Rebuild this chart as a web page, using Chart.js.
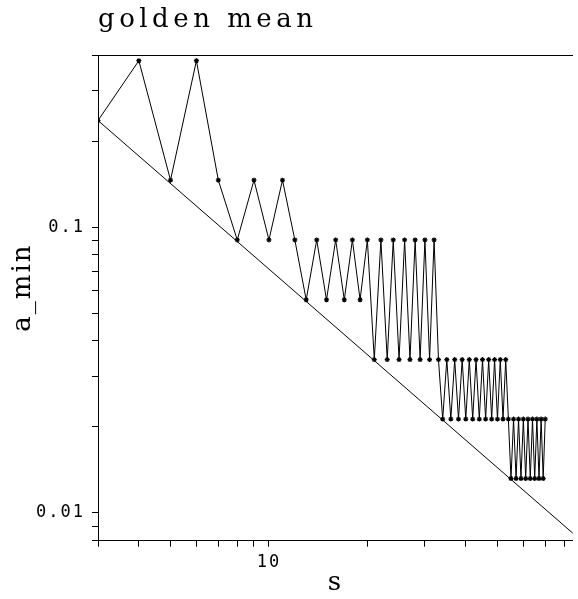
<!DOCTYPE html>
<html>
<head>
<meta charset="utf-8">
<title>golden mean</title>
<script src="https://cdn.jsdelivr.net/npm/chart.js@4/dist/chart.umd.min.js"></script>
<style>
	body { margin: 0; background: #fff; }
	#wrap { width: 578px; height: 599px; }
</style>
</head>
<body>
<div id="wrap"><canvas id="chart"></canvas></div>
<script>
const CHART = document.getElementById("chart");

// s values and the a_min read for each of them
const S_VALUES = [
	3, 4, 5, 6, 7, 8, 9, 10, 11, 12, 13, 14, 15, 16, 17, 18, 19, 20,
	21, 22, 23, 24, 25, 26, 27, 28, 29, 30, 31, 32, 33, 34, 35, 36, 37, 38,
	39, 40, 41, 42, 43, 44, 45, 46, 47, 48, 49, 50, 51, 52, 53, 54, 55, 56,
	57, 58, 59, 60, 61, 62, 63, 64, 65, 66, 67, 68, 69, 70,
];
const A_MIN = [
	0.236, 0.382, 0.146, 0.382, 0.146, 0.0902, 0.146, 0.0902, 0.146, 0.0902,
	0.0557, 0.0902, 0.0557, 0.0902, 0.0557, 0.0902, 0.0557, 0.0902,
	0.0344, 0.0902, 0.0344, 0.0902, 0.0344, 0.0902, 0.0344, 0.0902, 0.0344,
	0.0902, 0.0344, 0.0902, 0.0344, 0.0213, 0.0344, 0.0213, 0.0344, 0.0213,
	0.0344, 0.0213, 0.0344, 0.0213, 0.0344, 0.0213, 0.0344, 0.0213, 0.0344,
	0.0213, 0.0344, 0.0213, 0.0344, 0.0213, 0.0344, 0.0213, 0.0132, 0.0213,
	0.0132, 0.0213, 0.0132, 0.0213, 0.0132, 0.0213, 0.0132, 0.0213, 0.0132,
	0.0213, 0.0132, 0.0213, 0.0132, 0.0213,
];

// the straight lower bound
const BOUND_S = [3, 85];
const BOUND_A = [0.236, 0.0085];

const X_TICKS = [3, 4, 5, 6, 7, 8, 9, 10, 20, 30, 40, 50, 60, 70, 80];
const X_LABELS = { 10: "10" };
const Y_TICKS = [
	0.008, 0.009, 0.01, 0.02, 0.03, 0.04, 0.05, 0.06, 0.07, 0.08, 0.09,
	0.1, 0.2, 0.3, 0.4,
];
const Y_LABELS = { 0.01: "0.01", 0.1: "0.1" };

const X_MIN = 3;
const X_MAX = 85;
const Y_MIN = 0.008;
const Y_MAX = 0.4;

const labelFor = (table, value) => {
	for (const key of Object.keys(table)) {
		if (Math.abs(parseFloat(key) - value) < value * 1e-6) return table[key];
	}
	return "";
};

// canvas letter spacing: title first, then axis texts drawn after the datasets
const letterSpacing = {
	id: "letterSpacing",
	beforeDraw: (chart) => {
		chart.ctx.letterSpacing = "4.5px";
	},
	afterDatasetsDraw: (chart) => {
		chart.ctx.letterSpacing = "2px";
	},
	afterDraw: (chart) => {
		chart.ctx.letterSpacing = "0px";
	},
};

const tickFont = { family: "DejaVu Sans Mono", size: 17 };
const titleFont = { family: "DejaVu Serif", size: 26 };

const axisGrid = {
	display: true,
	drawOnChartArea: false,
	drawTicks: true,
	tickLength: 6,
	tickColor: "#000",
	z: 1,
};

new Chart(CHART.getContext("2d"), {
	type: "line",
	data: {
		datasets: [
			{
				label: "a_min",
				data: S_VALUES.map((s, i) => ({ x: s, y: A_MIN[i] })),
				borderColor: "#000",
				borderWidth: 1,
				pointStyle: "star",
				pointRadius: 2.5,
				pointBorderWidth: 1.2,
				pointBorderColor: "#000",
				pointBackgroundColor: "#000",
				tension: 0,
			},
			{
				label: "bound",
				data: BOUND_S.map((s, i) => ({ x: s, y: BOUND_A[i] })),
				borderColor: "#000",
				borderWidth: 1,
				pointRadius: 0,
				tension: 0,
			},
		],
	},
	options: {
		responsive: true,
		maintainAspectRatio: false,
		animation: false,
		layout: { padding: 0 },
		plugins: {
			legend: { display: false },
			tooltip: { enabled: false },
			title: {
				display: true,
				text: "golden mean",
				align: "start",
				fullSize: false,
				color: "#000",
				font: { family: "DejaVu Serif", size: 26, weight: "normal" },
				padding: { top: 4.4, bottom: 19.4 },
			},
		},
		scales: {
			x: {
				type: "logarithmic",
				position: "bottom",
				min: X_MIN,
				max: X_MAX,
				afterBuildTicks: (scale) => {
					scale.ticks = X_TICKS.map((v) => ({ value: v }));
				},
				afterFit: (scale) => {
					scale.height = 58.3;
				},
				grid: axisGrid,
				border: { color: "#000", width: 1, z: 1 },
				ticks: {
					z: 1,
					autoSkip: false,
					maxRotation: 0,
					padding: 6,
					color: "#000",
					font: tickFont,
					callback: (value) => labelFor(X_LABELS, value),
				},
				title: {
					display: true,
					text: "s",
					color: "#000",
					font: titleFont,
					padding: { top: 0, bottom: 0.4 },
				},
			},
			x2: {
				type: "logarithmic",
				position: "top",
				min: X_MIN,
				max: X_MAX,
				afterFit: (scale) => {
					scale.height = 0;
				},
				grid: { display: false, z: 1 },
				border: { color: "#000", width: 1, z: 1 },
				ticks: { display: false },
			},
			y: {
				type: "logarithmic",
				position: "left",
				min: Y_MIN,
				max: Y_MAX,
				afterBuildTicks: (scale) => {
					scale.ticks = Y_TICKS.map((v) => ({ value: v }));
				},
				afterFit: (scale) => {
					scale.width = 98;
				},
				grid: axisGrid,
				border: { color: "#000", width: 1, z: 1 },
				ticks: {
					z: 1,
					autoSkip: false,
					padding: 7,
					color: "#000",
					font: tickFont,
					callback: (value) => labelFor(Y_LABELS, value),
				},
				title: {
					display: true,
					text: "  a_min",
					color: "#000",
					font: titleFont,
					padding: { top: 7.4, bottom: 0 },
				},
			},
		},
	},
	plugins: [letterSpacing],
});
</script>
</body>
</html>
